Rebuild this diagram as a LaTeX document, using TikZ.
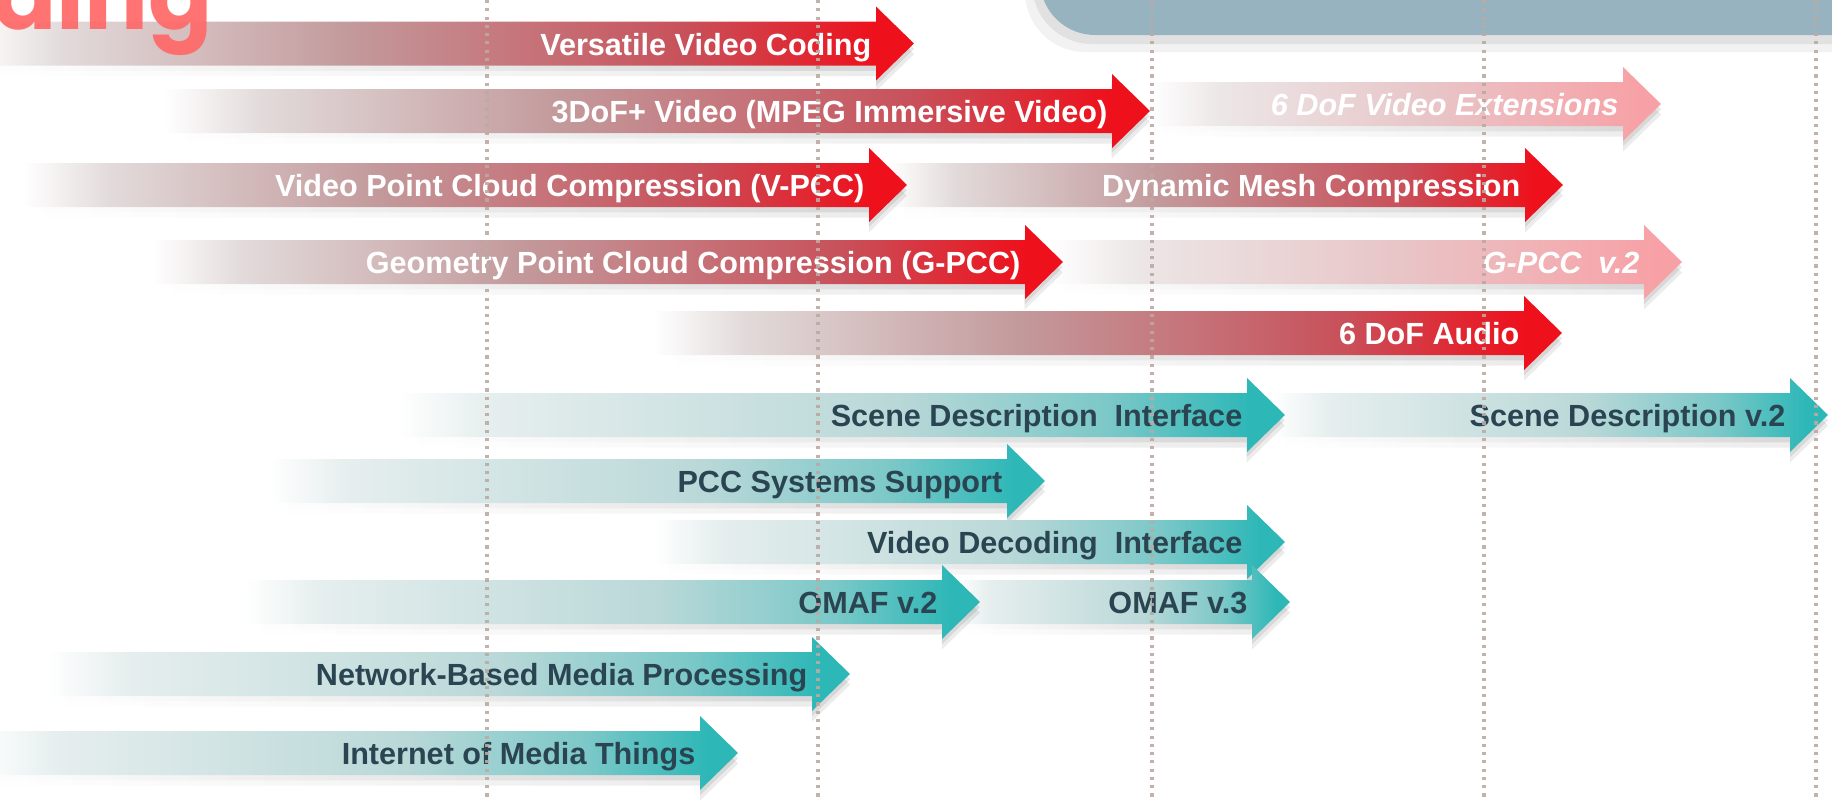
\documentclass[tikz,border=0pt]{standalone}
\usepackage{fontspec}
\setmainfont{Liberation Sans}
\newfontfamily\headfont{Poppins}
\usetikzlibrary{fadings}

% colours
\definecolor{mpegred}{HTML}{EE101B}
\definecolor{redgray}{HTML}{E2DADA}
\definecolor{redmauve}{HTML}{C39A9C}
\definecolor{redrose}{HTML}{C8505A}
\definecolor{palered}{HTML}{F7A1A6}
\definecolor{palemid}{HTML}{E8C6C8}
\definecolor{paleleft}{HTML}{ECE6E6}
\definecolor{mpegteal}{HTML}{2EB7B7}
\definecolor{tealgray}{HTML}{E6EEEE}
\definecolor{tealmid}{HTML}{BAD8D8}
\definecolor{tealstrong}{HTML}{7CC8C8}
\definecolor{slate}{HTML}{2A4551}
\definecolor{boxblue}{HTML}{97B3BF}
\definecolor{dotgray}{HTML}{BCAAA2}
\definecolor{titlered}{HTML}{FF6B6B}

% shadings of the tracks
\pgfdeclarehorizontalshading{redtrack}{100bp}{color(0bp)=(white); color(25bp)=(white); color(30bp)=(redgray); color(45bp)=(redmauve); color(63bp)=(redrose); color(73bp)=(mpegred); color(100bp)=(mpegred)}
\pgfdeclarehorizontalshading{paletrack}{100bp}{color(0bp)=(white); color(25bp)=(white); color(32bp)=(paleleft); color(52bp)=(palemid); color(73bp)=(palered); color(100bp)=(palered)}
\pgfdeclarehorizontalshading{tealtrack}{100bp}{color(0bp)=(white); color(25bp)=(white); color(30bp)=(tealgray); color(53bp)=(tealmid); color(65bp)=(tealstrong); color(73bp)=(mpegteal); color(100bp)=(mpegteal)}
\tikzfading[name=fadeleft, left color=transparent!100, right color=transparent!0]

\tikzstyle{track shadow} = [preaction={fill=black, fill opacity=0.08, path fading=fadeleft, transform canvas={yshift=-3pt}}, preaction={fill=black, fill opacity=0.09, path fading=fadeleft, transform canvas={yshift=-1.5pt}}]
\tikzstyle{red arrow} = [shade, shading=redtrack, track shadow]
\tikzstyle{pale arrow} = [shade, shading=paletrack, track shadow]
\tikzstyle{teal arrow} = [shade, shading=tealtrack, track shadow]
\tikzstyle{track text} = [inner sep=0, anchor=base east, font=\fontsize{8.7}{10}\selectfont\bfseries]
\tikzstyle{red text} = [track text, text=white]
\tikzstyle{pale text} = [track text, text=white, font=\fontsize{8.7}{10}\selectfont\bfseries\itshape]
\tikzstyle{teal text} = [track text, text=slate]
\tikzstyle{grid line} = [dotgray, line width=0.9pt, dash pattern=on 0.9pt off 1.45pt, opacity=0.9]

% #1 name, #2 arrow style, #3 text style, #4 start, #5 tip, #6 height, #7 text
\newcommand{\track}[7]{%
  \path[#2] (#4,#6-22) -- (#5-38,#6-22) -- (#5-38,#6-37) -- (#5,#6) -- (#5-38,#6+37) -- (#5-38,#6+22) -- (#4,#6+22) -- cycle;
  \node[#3] (#1) at (#5-42,#6+11.5) {#7};
}

\begin{document}
\begin{tikzpicture}[x=0.01cm, y=-0.01cm]
\useasboundingbox (0,0) rectangle (1832,800);
\clip (0,0) rectangle (1832,800);

% box at the top
\fill[black, opacity=0.05, rounded corners=0.6cm] (1025,-100) rectangle (1900,52);
\fill[black, opacity=0.07, rounded corners=0.6cm] (1032,-100) rectangle (1900,44);
\fill[boxblue, rounded corners=0.55cm] (1040,-100) rectangle (1900,35);

% coding tracks
\track{vvc}{red arrow}{red text}{-30}{914}{43.5}{Versatile Video Coding}
\track{dofext}{pale arrow}{pale text}{1150}{1661}{104}{6 DoF Video Extensions}
\track{miv}{red arrow}{red text}{164}{1150}{111}{3DoF+ Video (MPEG Immersive Video)}
\track{mesh}{red arrow}{red text}{888}{1563}{185}{Dynamic Mesh Compression}
\track{vpcc}{red arrow}{red text}{23}{907}{185}{Video Point Cloud Compression (V-PCC)}
\track{gpcctwo}{pale arrow}{pale text}{1050}{1682}{262}{G-PCC~~v.2}
\track{gpcc}{red arrow}{red text}{152}{1063}{262}{Geometry Point Cloud Compression (G-PCC)}
\track{audio}{red arrow}{red text}{654}{1562}{333}{6 DoF Audio}

% title, over the first track
\node[inner sep=0, anchor=base east, text=titlered, opacity=0.95, font=\headfont\bfseries\fontsize{27}{30}\selectfont] (title) at (214,30) {ding};

% systems tracks
\track{scenetwo}{teal arrow}{teal text}{1273}{1828}{415}{Scene Description v.2}
\track{scene}{teal arrow}{teal text}{398}{1285}{415}{Scene Description~~Interface}
\track{pccsys}{teal arrow}{teal text}{269}{1045}{481}{PCC Systems Support}
\track{vdi}{teal arrow}{teal text}{654}{1285}{542}{Video Decoding~~Interface}
\track{omafthree}{teal arrow}{teal text}{955}{1290}{602}{OMAF v.3}
\track{omaftwo}{teal arrow}{teal text}{245}{980}{602}{OMAF v.2}
\track{nbmp}{teal arrow}{teal text}{47}{850}{674}{Network-Based Media Processing}
\track{iomt}{teal arrow}{teal text}{-20}{738}{753}{Internet of Media Things}

% time grid
\foreach \x in {487,818,1152,1484,1816}
  \draw[grid line] (\x,0) -- (\x,800);

\end{tikzpicture}
\end{document}
